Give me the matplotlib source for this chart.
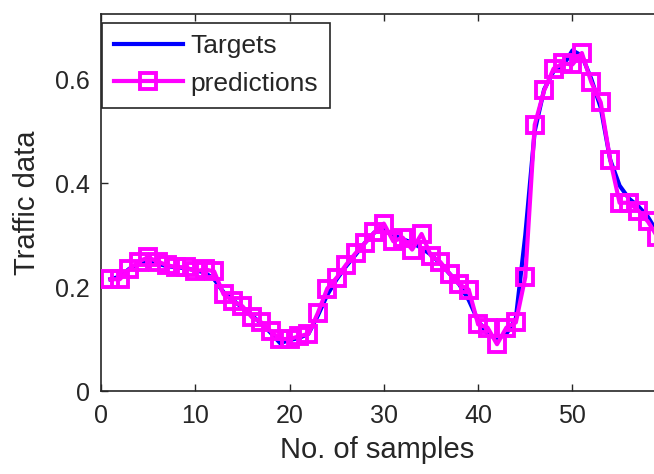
import numpy as np
import matplotlib
matplotlib.use("Agg")
import matplotlib.pyplot as plt

INK = "#262626"
plt.rcParams.update({"font.family": ["Liberation Sans", "DejaVu Sans"],
                     "text.color": INK, "axes.labelcolor": INK,
                     "xtick.color": INK, "ytick.color": INK})

samples = np.arange(1, 60)
targets = [0.215, 0.220, 0.235, 0.245, 0.250, 0.245, 0.240, 0.238, 0.236, 0.232,
           0.228, 0.215, 0.190, 0.175, 0.160, 0.145, 0.130, 0.112, 0.092, 0.098,
           0.102, 0.110, 0.145, 0.185, 0.215, 0.240, 0.262, 0.285, 0.305, 0.310,
           0.300, 0.292, 0.285, 0.275, 0.262, 0.245, 0.225, 0.205, 0.175, 0.135,
           0.110, 0.100, 0.110, 0.140, 0.300, 0.500, 0.580, 0.615, 0.625, 0.655,
           0.645, 0.600, 0.545, 0.445, 0.395, 0.370, 0.355, 0.335, 0.305]
predictions = [0.215, 0.215, 0.234, 0.249, 0.257, 0.249, 0.242, 0.238, 0.238, 0.230,
               0.234, 0.230, 0.186, 0.173, 0.163, 0.142, 0.132, 0.115, 0.100, 0.100,
               0.105, 0.110, 0.150, 0.197, 0.218, 0.243, 0.265, 0.285, 0.305, 0.322,
               0.288, 0.295, 0.272, 0.302, 0.260, 0.248, 0.225, 0.205, 0.195, 0.128,
               0.122, 0.090, 0.122, 0.132, 0.219, 0.512, 0.578, 0.620, 0.630, 0.628,
               0.650, 0.594, 0.555, 0.445, 0.362, 0.362, 0.347, 0.326, 0.297]

fig = plt.figure(figsize=(6.54, 4.74), dpi=100)
ax = fig.add_axes([0.1544, 0.1751, 0.8456, 0.7964])

ax.plot(samples, targets, color="#0000ff", lw=3, label="Targets", zorder=2)
ax.plot(samples, predictions, color="#ff00ff", lw=3, marker="s", ms=11,
        mfc="none", mew=2.8, label="predictions", zorder=3)

ax.set_xlim(0, 58.65)
ax.set_ylim(0, 0.726)
ax.set_xticks([0, 10, 20, 30, 40, 50])
ax.set_yticks([0, 0.2, 0.4, 0.6])
ax.set_yticklabels(["0", "0.2", "0.4", "0.6"])
ax.tick_params(direction="in", length=5, width=1, labelsize=18, top=True)
ax.tick_params(axis="x", pad=9)
ax.tick_params(axis="y", pad=8)
for side in ("left", "bottom", "top"):
    ax.spines[side].set_color(INK)
    ax.spines[side].set_linewidth(1.2)
ax.spines["right"].set_visible(False)

ax.set_xlabel("No. of samples", fontsize=21, labelpad=6)
ax.set_ylabel("Traffic data", fontsize=21, labelpad=10)

leg = ax.legend(loc="upper left", bbox_to_anchor=(0.002, 0.976), borderaxespad=0,
                fontsize=19, handlelength=2.6, handletextpad=0.3,
                borderpad=0.45, labelspacing=0.5, fancybox=False, framealpha=1)
leg.get_frame().set_edgecolor(INK)
leg.get_frame().set_linewidth(1.2)

fig.savefig("out.png", dpi=100, facecolor="white")
